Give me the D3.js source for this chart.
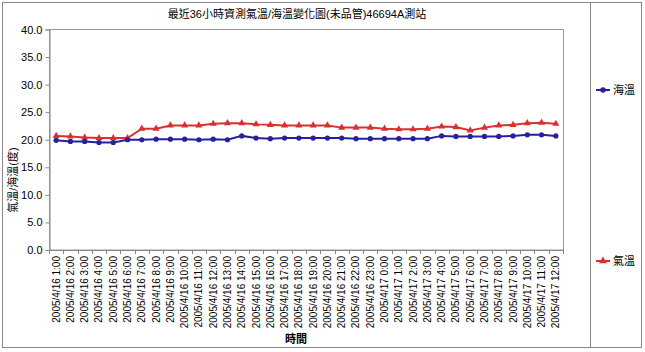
<!DOCTYPE html>
<html>
<head>
<meta charset="utf-8">
<script src="https://cdn.jsdelivr.net/npm/d3@7"></script>
<style>
    body { margin: 0; background: #fff; }
    svg text { font-family: "Liberation Sans", "Noto Sans CJK TC", sans-serif; fill: #000; }
</style>
</head>
<body>
<div id="chart"></div>
<script>
// categories (hours)
var hours = ["2005/4/16 1:00", "2005/4/16 2:00", "2005/4/16 3:00", "2005/4/16 4:00", "2005/4/16 5:00",
    "2005/4/16 6:00", "2005/4/16 7:00", "2005/4/16 8:00", "2005/4/16 9:00", "2005/4/16 10:00",
    "2005/4/16 11:00", "2005/4/16 12:00", "2005/4/16 13:00", "2005/4/16 14:00", "2005/4/16 15:00",
    "2005/4/16 16:00", "2005/4/16 17:00", "2005/4/16 18:00", "2005/4/16 19:00", "2005/4/16 20:00",
    "2005/4/16 21:00", "2005/4/16 22:00", "2005/4/16 23:00", "2005/4/17 0:00", "2005/4/17 1:00",
    "2005/4/17 2:00", "2005/4/17 3:00", "2005/4/17 4:00", "2005/4/17 5:00", "2005/4/17 6:00",
    "2005/4/17 7:00", "2005/4/17 8:00", "2005/4/17 9:00", "2005/4/17 10:00", "2005/4/17 11:00",
    "2005/4/17 12:00"];

// 海溫
var seaTemp = [19.9, 19.7, 19.7, 19.5, 19.5, 20.0, 20.0, 20.1, 20.1, 20.1,
    20.0, 20.1, 20.0, 20.7, 20.3, 20.2, 20.3, 20.3, 20.3, 20.3,
    20.3, 20.2, 20.2, 20.2, 20.2, 20.2, 20.2, 20.7, 20.6, 20.6,
    20.6, 20.6, 20.7, 20.9, 20.9, 20.7];

// 氣溫
var airTemp = [20.7, 20.6, 20.4, 20.3, 20.3, 20.3, 22.0, 22.0, 22.6, 22.6,
    22.6, 22.9, 23.0, 23.0, 22.8, 22.7, 22.6, 22.6, 22.6, 22.6,
    22.2, 22.2, 22.2, 22.0, 21.9, 21.9, 22.0, 22.4, 22.3, 21.7,
    22.2, 22.6, 22.7, 23.0, 23.1, 22.9];

var yTicks = [0, 5, 10, 15, 20, 25, 30, 35, 40];

var W = 645, H = 352;
var plot = {left: 49, top: 29.5, right: 563, bottom: 250};

var svg = d3.select("#chart").append("svg")
    .attr("width", W)
    .attr("height", H);

// outer frame + legend box
svg.append("rect")
    .attr("x", 2.5).attr("y", 2.5)
    .attr("width", 639).attr("height", 345)
    .attr("fill", "none").attr("stroke", "#888").attr("stroke-width", 1);
svg.append("line")
    .attr("x1", 590.5).attr("x2", 590.5).attr("y1", 2.5).attr("y2", 347.5)
    .attr("stroke", "#888");

var x = d3.scaleBand().domain(hours).range([plot.left, plot.right]);
var y = d3.scaleLinear().domain([0, 40]).range([plot.bottom, plot.top]);

// plot area border
svg.append("rect")
    .attr("x", plot.left + 0.5).attr("y", plot.top)
    .attr("width", plot.right - plot.left).attr("height", plot.bottom - plot.top)
    .attr("fill", "#fff").attr("stroke", "#999");

// y axis
var yAxis = d3.axisLeft(y)
    .tickValues(yTicks)
    .tickFormat(d3.format(".1f"))
    .tickSize(4)
    .tickPadding(3);

var gy = svg.append("g")
    .attr("transform", "translate(" + (plot.left + 0.5) + ",0)")
    .call(yAxis);
gy.select(".domain").attr("stroke", "#888");
gy.selectAll(".tick line").attr("stroke", "#888");
gy.selectAll("text").style("font-size", "11px");

// x axis, ticks between categories
var xAxis = d3.axisBottom(x).tickSize(0).tickPadding(0);
var gx = svg.append("g")
    .attr("transform", "translate(0," + plot.bottom + ")")
    .call(xAxis);
gx.select(".domain").attr("stroke", "#888");
gx.selectAll(".tick text")
    .attr("transform", "rotate(-90)")
    .attr("x", -6)
    .attr("y", 0)
    .attr("dy", "0.35em")
    .style("text-anchor", "end")
    .style("font-size", "10px");

gx.selectAll(".sep")
    .data(hours.concat(["end"]))
    .enter().append("line")
    .attr("class", "sep")
    .attr("x1", function(d, i) { return Math.round(plot.left + i * x.step()) + 0.5; })
    .attr("x2", function(d, i) { return Math.round(plot.left + i * x.step()) + 0.5; })
    .attr("y1", 0).attr("y2", 4)
    .attr("stroke", "#888");

function cx(d, i) { return x(hours[i]) + x.bandwidth() / 2; }

var line = d3.line()
    .x(function(d, i) { return cx(d, i); })
    .y(function(d) { return y(d); });

var seaColor = "#26209c", airColor = "#d8312f";

// 氣溫 line
svg.append("path")
    .attr("d", line(airTemp))
    .attr("fill", "none").attr("stroke", airColor).attr("stroke-width", 2);
svg.selectAll(".air")
    .data(airTemp)
    .enter().append("path")
    .attr("class", "air")
    .attr("transform", function(d, i) { return "translate(" + cx(d, i) + "," + y(d) + ")"; })
    .attr("d", d3.symbol().type(d3.symbolTriangle).size(22))
    .attr("fill", airColor);

// 海溫 line
svg.append("path")
    .attr("d", line(seaTemp))
    .attr("fill", "none").attr("stroke", seaColor).attr("stroke-width", 2);
svg.selectAll(".sea")
    .data(seaTemp)
    .enter().append("circle")
    .attr("class", "sea")
    .attr("cx", function(d, i) { return cx(d, i); })
    .attr("cy", function(d) { return y(d); })
    .attr("r", 2.6)
    .attr("fill", seaColor);

// titles
svg.append("text")
    .attr("x", 297).attr("y", 18)
    .attr("text-anchor", "middle")
    .style("font-size", "11px")
    .text("最近36小時資測氣溫/海溫變化圖(未品管)46694A測站");

svg.append("text")
    .attr("transform", "translate(17,180) rotate(-90)")
    .attr("text-anchor", "middle")
    .style("font-size", "11px")
    .text("氣溫/海溫(度)");

svg.append("text")
    .attr("x", 296).attr("y", 343)
    .attr("text-anchor", "middle")
    .style("font-size", "11px")
    .style("font-weight", "bold")
    .text("時間");

// legend
var legend = [
    {name: "海溫", color: seaColor, y: 90, mark: "circle"},
    {name: "氣溫", color: airColor, y: 261, mark: "tri"}
];
var lg = svg.selectAll(".lg").data(legend).enter().append("g")
    .attr("class", "lg")
    .attr("transform", function(d) { return "translate(596," + d.y + ")"; });
lg.append("line")
    .attr("x1", 0).attr("x2", 14).attr("y1", 0).attr("y2", 0)
    .attr("stroke", function(d) { return d.color; }).attr("stroke-width", 2);
lg.append("path")
    .attr("transform", "translate(7,0)")
    .attr("d", function(d) {
        return d3.symbol().type(d.mark === "circle" ? d3.symbolCircle : d3.symbolTriangle).size(d.mark === "circle" ? 24 : 26)();
    })
    .attr("fill", function(d) { return d.color; });
lg.append("text")
    .attr("x", 17).attr("y", 0).attr("dy", "0.35em")
    .style("font-size", "11px")
    .text(function(d) { return d.name; });
</script>
</body>
</html>
